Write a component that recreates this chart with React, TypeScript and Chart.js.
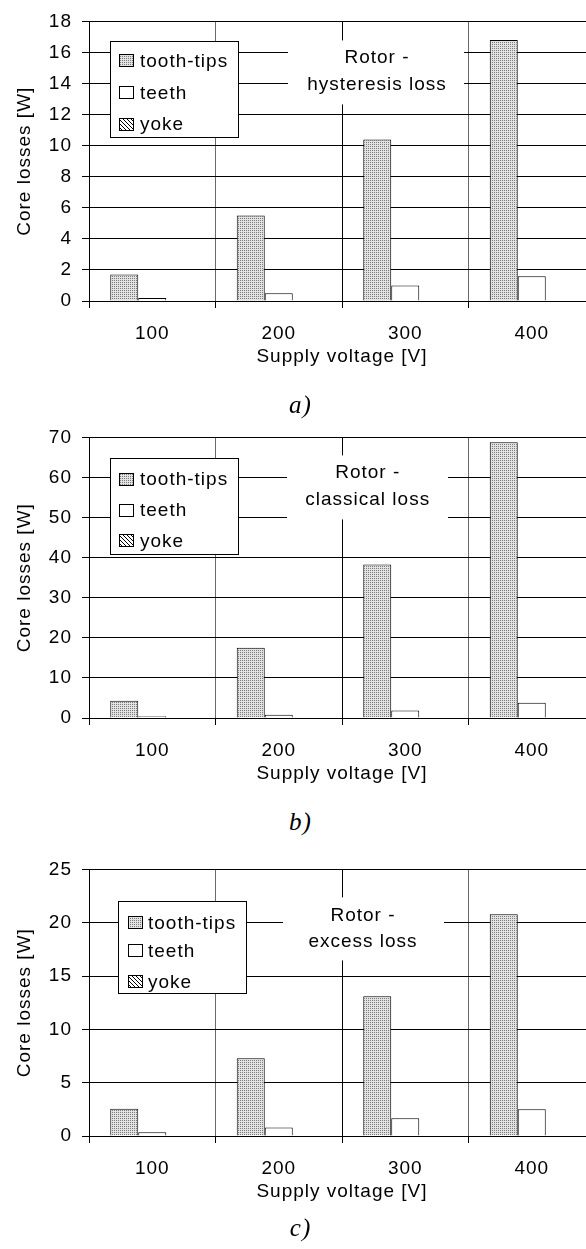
import React, { useEffect, useRef } from 'react';
import { Chart, registerables } from 'chart.js';

Chart.register(...registerables);

// ---------- data ----------
const voltages = ['100', '200', '300', '400'];
const seriesNames = ['tooth-tips', 'teeth', 'yoke'];

const hysteresisToothTips = [1.7, 5.5, 10.4, 16.8];
const hysteresisTeeth = [0.2, 0.5, 1.0, 1.6];
const hysteresisYoke = [0, 0, 0, 0];

const classicalToothTips = [4.3, 17.5, 38.3, 68.8];
const classicalTeeth = [0.45, 0.8, 1.85, 3.8];
const classicalYoke = [0, 0, 0, 0];

const excessToothTips = [2.55, 7.3, 13.1, 20.8];
const excessTeeth = [0.35, 0.8, 1.67, 2.52];
const excessYoke = [0, 0, 0, 0];

const hysteresisTitle = ['Rotor -', 'hysteresis loss'];
const classicalTitle = ['Rotor -', 'classical loss'];
const excessTitle = ['Rotor -', 'excess loss'];

const xAxisTitle = 'Supply voltage [V]';
const yAxisTitle = 'Core losses [W]';
const captions = ['a)', 'b)', 'c)'];

// ---------- styling / layout ----------
const FONT = '"Liberation Sans", Arial, Helvetica, sans-serif';
const FS = 19;

Chart.defaults.font.family = FONT;
Chart.defaults.font.size = FS;
Chart.defaults.color = '#000';

function makeDots(): CanvasPattern | string {
  const c = document.createElement('canvas');
  c.width = 2;
  c.height = 2;
  const g = c.getContext('2d');
  if (!g) return '#c4c4c4';
  g.fillStyle = '#e2e2e2';
  g.fillRect(0, 0, 2, 2);
  g.fillStyle = '#7c7c7c';
  g.fillRect(0, 0, 1, 1);
  return g.createPattern(c, 'repeat') || '#c4c4c4';
}

function makeHatch(): CanvasPattern | string {
  const c = document.createElement('canvas');
  c.width = 4;
  c.height = 4;
  const g = c.getContext('2d');
  if (!g) return '#555';
  g.fillStyle = '#fff';
  g.fillRect(0, 0, 4, 4);
  g.fillStyle = '#000';
  for (let i = 0; i < 4; i++) g.fillRect(i, i, 1, 1);
  return g.createPattern(c, 'repeat') || '#555';
}

const spacingPlugin = {
  id: 'spacing',
  beforeDraw(chart: any) {
    (chart.ctx as any).letterSpacing = '1px';
  },
};

const annotPlugin = {
  id: 'annot',
  afterDraw(chart: any, _args: any, opts: any) {
    const { ctx, chartArea } = chart;
    const L = chartArea.left;
    const T = chartArea.top;
    ctx.save();
    (ctx as any).letterSpacing = '1px';
    // title box
    const tb = opts.titleBox;
    ctx.fillStyle = '#fff';
    ctx.fillRect(L + tb.x, T + tb.y, tb.w, tb.h);
    ctx.fillStyle = '#000';
    ctx.font = `${FS}px ${FONT}`;
    ctx.textAlign = 'center';
    ctx.textBaseline = 'middle';
    opts.titleLines.forEach((t: string, i: number) => {
      ctx.fillText(t, L + tb.cx, T + tb.lineY[i]);
    });
    // legend
    const lg = opts.legend;
    ctx.fillStyle = '#fff';
    ctx.fillRect(L + lg.x, T + lg.y, lg.w, lg.h);
    ctx.strokeStyle = '#000';
    ctx.lineWidth = 1;
    ctx.strokeRect(Math.round(L + lg.x) + 0.5, Math.round(T + lg.y) + 0.5, lg.w, lg.h);
    const fills = opts.fills;
    opts.names.forEach((name: string, i: number) => {
      const cy = T + lg.rowY[i];
      const sx = Math.round(L + lg.swatchX);
      const sy = Math.round(cy - 6.5);
      ctx.fillStyle = fills[i];
      ctx.fillRect(sx, sy, 15, 13);
      ctx.strokeStyle = '#000';
      ctx.strokeRect(sx + 0.5, sy + 0.5, 14, 12);
      ctx.fillStyle = '#000';
      ctx.textAlign = 'left';
      ctx.textBaseline = 'middle';
      ctx.fillText(name, L + lg.textX, cy + 1);
    });
    ctx.restore();
  },
};

interface PanelCfg {
  top: number;
  height: number;
  plotH: number;
  yMax: number;
  yStep: number;
  tooth: number[];
  teeth: number[];
  yoke: number[];
  title: string[];
  legend: any;
  titleBox: any;
}

const XAXIS_H = 70;
const PAD_TOP = 14;

const panels: PanelCfg[] = [
  {
    top: 0,
    height: 380,
    plotH: 287,
    yMax: 18,
    yStep: 2,
    tooth: hysteresisToothTips,
    teeth: hysteresisTeeth,
    yoke: hysteresisYoke,
    title: hysteresisTitle,
    legend: { x: 21, y: 20, w: 128, h: 96, rowY: [39.3, 71, 102.7], swatchX: 30, textX: 51 },
    titleBox: { x: 199, y: 19, w: 176, h: 64, cx: 288, lineY: [36, 63] },
  },
  {
    top: 416,
    height: 380,
    plotH: 288,
    yMax: 70,
    yStep: 10,
    tooth: classicalToothTips,
    teeth: classicalTeeth,
    yoke: classicalYoke,
    title: classicalTitle,
    legend: { x: 21, y: 21, w: 128, h: 96, rowY: [41.7, 72.7, 103.3], swatchX: 30, textX: 51 },
    titleBox: { x: 198, y: 18, w: 161, h: 64, cx: 278.7, lineY: [35, 62.7] },
  },
  {
    top: 848,
    height: 380,
    plotH: 274,
    yMax: 25,
    yStep: 5,
    tooth: excessToothTips,
    teeth: excessTeeth,
    yoke: excessYoke,
    title: excessTitle,
    legend: { x: 29, y: 32, w: 128, h: 92, rowY: [53, 81.3, 112], swatchX: 39, textX: 59 },
    titleBox: { x: 194, y: 28, w: 161, h: 63, cx: 274, lineY: [46, 72] },
  },
];

const captionY = [405, 822, 1228];

function Panel({ cfg }: { cfg: PanelCfg }) {
  const ref = useRef<HTMLCanvasElement | null>(null);
  useEffect(() => {
    const canvas = ref.current;
    if (!canvas) return;
    const dots = makeDots();
    const hatch = makeHatch();
    const fills = [dots, '#fff', hatch];
    const seriesData = [cfg.tooth, cfg.teeth, cfg.yoke];
    const padBottom = cfg.height - PAD_TOP - cfg.plotH - XAXIS_H;
    const chart = new Chart(canvas, {
      type: 'bar',
      data: {
        labels: voltages,
        datasets: seriesNames.map((name, i) => ({
          label: name,
          data: seriesData[i],
          backgroundColor: fills[i] as any,
          borderColor: '#000',
          borderWidth: 1,
          borderSkipped: 'start',
          categoryPercentage: 0.664,
          barPercentage: 1,
        })),
      },
      options: {
        responsive: false,
        animation: false,
        devicePixelRatio: 1,
        events: [],
        layout: { padding: { top: PAD_TOP, right: 15, bottom: padBottom, left: 0 } },
        plugins: {
          legend: { display: false },
          tooltip: { enabled: false },
          title: { display: false },
          annot: {
            legend: cfg.legend,
            titleBox: cfg.titleBox,
            titleLines: cfg.title,
            names: seriesNames,
            fills,
          },
        } as any,
        scales: {
          x: {
            offset: true,
            grid: {
              offset: true,
              color: (c: any) => (c.index === 2 ? '#000' : '#6a6a6a'),
              tickColor: '#000',
              lineWidth: 1,
              tickLength: 7,
              drawOnChartArea: true,
            },
            border: { color: '#000', width: 1 },
            ticks: { padding: 14.6, color: '#000', font: { size: FS }, maxRotation: 0 },
            title: {
              display: true,
              text: xAxisTitle,
              color: '#000',
              font: { size: FS },
              padding: { top: 0, bottom: 2.6 },
            },
            afterFit: (s: any) => {
              s.height = XAXIS_H;
            },
          },
          y: {
            min: 0,
            max: cfg.yMax,
            ticks: { stepSize: cfg.yStep, padding: 10, color: '#000', font: { size: FS } },
            grid: { color: '#000', tickColor: '#000', lineWidth: 1, tickLength: 7 },
            border: { color: '#000', width: 1 },
            title: {
              display: true,
              text: yAxisTitle,
              color: '#000',
              font: { size: FS },
              padding: { top: 13, bottom: 0 },
            },
            afterFit: (s: any) => {
              s.width = 89;
            },
          },
        },
      } as any,
      plugins: [spacingPlugin, annotPlugin],
    });
    return () => chart.destroy();
  }, [cfg]);
  return (
    <canvas
      ref={ref}
      width={610}
      height={cfg.height}
      style={{ position: 'absolute', left: 0, top: cfg.top, width: 610, height: cfg.height, display: 'block' }}
    />
  );
}

export default function App() {
  return (
    <div
      style={{
        position: 'absolute',
        left: 0,
        top: 0,
        width: 586,
        height: 1249,
        overflow: 'hidden',
        background: '#fff',
      }}
    >
      {panels.map((p, i) => (
        <Panel key={i} cfg={p} />
      ))}
      {captions.map((c, i) => (
        <div
          key={'cap' + i}
          style={{
            position: 'absolute',
            left: 0,
            width: 601,
            top: captionY[i] - 16,
            height: 32,
            lineHeight: '32px',
            textAlign: 'center',
            fontFamily: '"Liberation Serif", "Times New Roman", serif',
            fontStyle: 'italic',
            fontSize: 25,
            letterSpacing: '1px',
            color: '#000',
          }}
        >
          {c}
        </div>
      ))}
    </div>
  );
}
